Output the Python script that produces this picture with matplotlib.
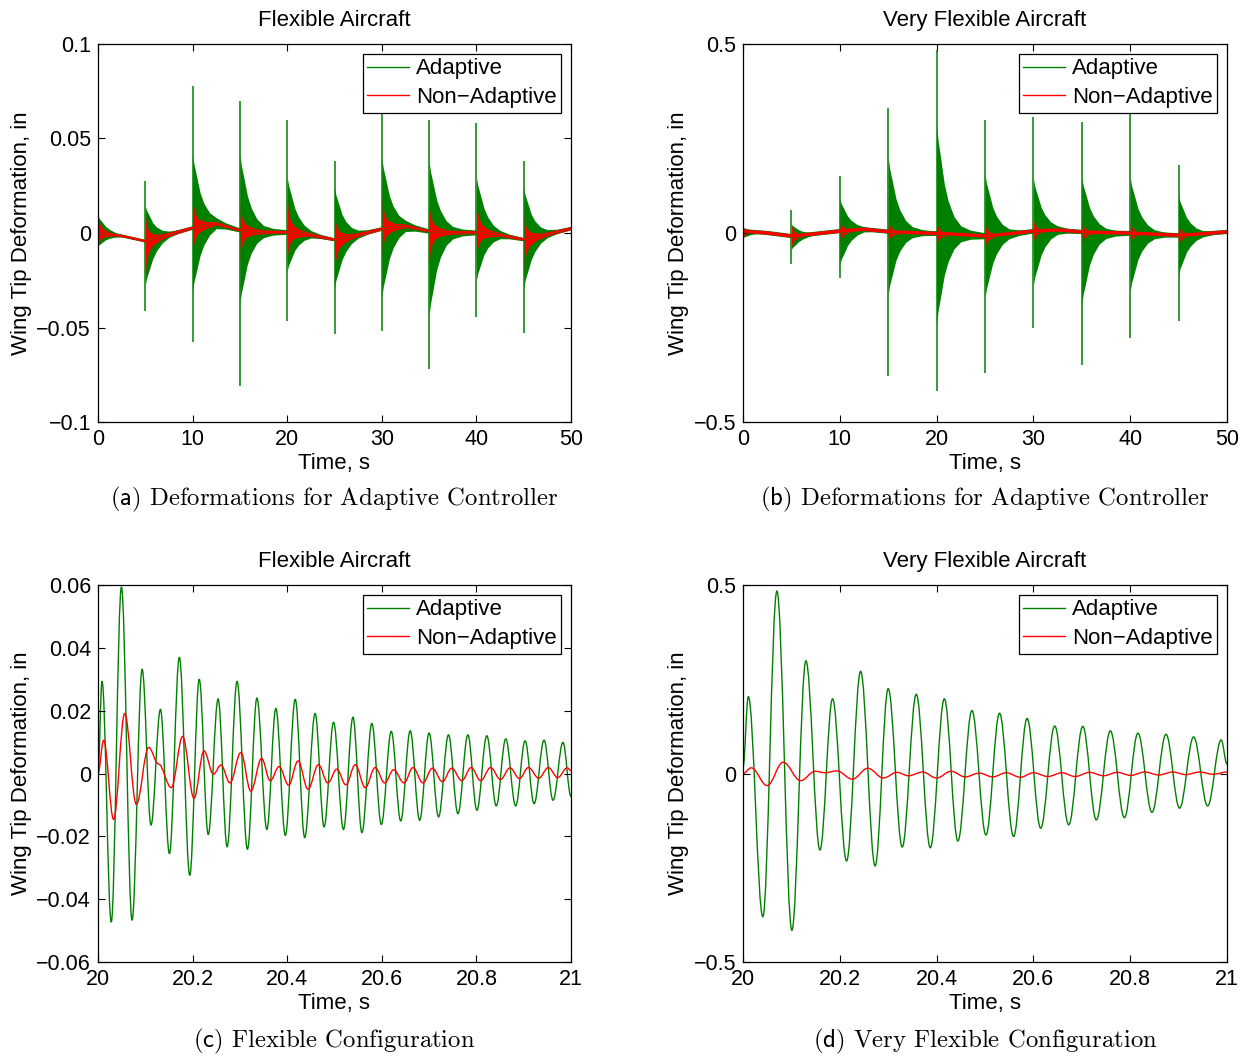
import numpy as np
import matplotlib.pyplot as plt
from matplotlib.path import Path
from matplotlib.patches import PathPatch
from matplotlib.lines import Line2D

plt.rcParams['font.family'] = ['Liberation Sans', 'DejaVu Sans']
plt.rcParams['mathtext.fontset'] = 'cm'

GREEN = (0.0, 0.5, 0.0)
RED = (1.0, 0.0, 0.0)

# -----------------------------
# Gust events, 0..50 s (top row)
# -----------------------------
events = [0, 5, 10, 15, 20, 25, 30, 35, 40, 45]
drift_t = [0, 2.5, 5, 7.5, 10, 12.5, 15, 17.5, 20, 22.5, 25,
           27.5, 30, 32.5, 35, 37.5, 40, 42.5, 45, 47.5, 50]

# flexible aircraft
flex_drift = [0.0, -0.0015, -0.0043, -0.0005, 0.0028, 0.005, 0.0015, 0.0007, 0.0005, -0.001, -0.0035,
              -0.0007, 0.0023, 0.0037, 0.001, 0.0005, 0.0004, -0.001, -0.0034, -0.0004, 0.0025]
flex_spike_hi = [0.0, 0.0273, 0.0777, 0.0698, 0.0598, 0.0383, 0.066, 0.0598, 0.058, 0.038]
flex_spike_lo = [0.0, -0.0411, -0.0578, -0.081, -0.0466, -0.0534, -0.052, -0.072, -0.0444, -0.053]
flex_ad_hi = [0.009, 0.0144, 0.042, 0.042, 0.0296, 0.024, 0.040, 0.038, 0.0296, 0.024]
flex_ad_lo = [-0.007, -0.0273, -0.031, -0.0376, -0.020, -0.029, -0.034, -0.044, -0.025, -0.029]
flex_na_hi = [0.0105, 0.0108, 0.0217, 0.017, 0.0196, 0.0117, 0.0217, 0.0164, 0.0196, 0.0122]
flex_na_lo = [-0.008, -0.0238, -0.0125, -0.0164, -0.0148, -0.0229, -0.0127, -0.018, -0.0143, -0.022]

# very flexible aircraft
vflex_drift = [0.005, 0.0, -0.008, -0.002, 0.005, 0.01, 0.0035, 0.001, -0.001, -0.004, -0.008,
               -0.002, 0.005, 0.008, 0.003, 0.001, 0.0, -0.003, -0.006, -0.002, 0.003]
vflex_spike_hi = [0.0, 0.060, 0.150, 0.331, 0.484, 0.300, 0.308, 0.293, 0.36, 0.181]
vflex_spike_lo = [0.0, -0.081, -0.120, -0.379, -0.417, -0.371, -0.252, -0.349, -0.278, -0.232]
vflex_ad_hi = [0.015, 0.023, 0.09, 0.20, 0.289, 0.156, 0.143, 0.147, 0.147, 0.098]
vflex_ad_lo = [-0.012, -0.043, -0.083, -0.163, -0.243, -0.172, -0.137, -0.19, -0.154, -0.11]
vflex_na_hi = [0.018, 0.024, 0.038, 0.034, 0.032, 0.029, 0.036, 0.032, 0.032, 0.025]
vflex_na_lo = [-0.016, -0.04, -0.03, -0.03, -0.035, -0.041, -0.023, -0.032, -0.028, -0.035]

# envelope decay after each gust (fraction of initial amplitude)
ad_decay_t = [0, 0.15, 0.4, 0.8, 1.2, 1.8, 2.5, 3.5, 4.99]
ad_decay = [1.0, 0.85, 0.7, 0.45, 0.3, 0.16, 0.08, 0.045, 0.03]
na_decay_t = [0, 0.1, 0.3, 0.6, 1.0, 1.5, 2.5, 4.99]
na_decay = [1.0, 0.6, 0.37, 0.22, 0.15, 0.1, 0.06, 0.04]

# -----------------------------
# Zoom on 20..21 s (bottom row): turning points
# -----------------------------
c_ad_t = [20.000, 20.0085, 20.028, 20.0495, 20.072, 20.0933, 20.112, 20.132, 20.151, 20.172,
          20.194, 20.214, 20.233, 20.254, 20.273, 20.294, 20.316, 20.336, 20.357, 20.376,
          20.396, 20.417, 20.437, 20.459, 20.478, 20.498, 20.519, 20.539, 20.558, 20.579,
          20.599, 20.620, 20.640, 20.660, 20.680, 20.700, 20.720, 20.741, 20.761, 20.782,
          20.801, 20.822, 20.842, 20.862, 20.883, 20.903, 20.922, 20.943, 20.962, 20.983, 21.000]
c_ad_y = [0.0, 0.0294, -0.0473, 0.0594, -0.0467, 0.0332, -0.0164, 0.0204, -0.0255, 0.0370,
          -0.0324, 0.0300, -0.0194, 0.0237, -0.0233, 0.0293, -0.0241, 0.0240, -0.0178, 0.0207,
          -0.0197, 0.0236, -0.0204, 0.0191, -0.0170, 0.0163, -0.0178, 0.0179, -0.0188, 0.0159,
          -0.0162, 0.0134, -0.0151, 0.0136, -0.0149, 0.0129, -0.0138, 0.0123, -0.0128, 0.0123,
          -0.0117, 0.0120, -0.0103, 0.0110, -0.0103, 0.0104, -0.0096, 0.0106, -0.0085, 0.0099, -0.0073]
c_na_t = [20.000, 20.012, 20.033, 20.0565, 20.081, 20.107, 20.128, 20.155, 20.179, 20.203,
          20.224, 20.244, 20.260, 20.279, 20.302, 20.323, 20.346, 20.364, 20.383, 20.403,
          20.423, 20.444, 20.466, 20.486, 20.505, 20.524, 20.544, 20.565, 20.586, 20.606,
          20.625, 20.647, 20.666, 20.687, 20.707, 20.728, 20.748, 20.769, 20.789, 20.809,
          20.830, 20.851, 20.871, 20.891, 20.910, 20.932, 20.952, 20.972, 20.992, 21.000]
c_na_y = [0.0, 0.0106, -0.0146, 0.0191, -0.0098, 0.0083, 0.0030, -0.0045, 0.0118, -0.0079,
          0.0072, -0.0002, 0.0027, -0.0030, 0.0067, -0.0056, 0.0048, -0.0023, 0.0022, -0.0037,
          0.0040, -0.0050, 0.0028, -0.0030, 0.0014, -0.0036, 0.0028, -0.0045, 0.0019, -0.0030,
          0.0012, -0.0030, 0.0019, -0.0030, 0.0017, -0.0026, 0.0017, -0.0023, 0.0019, -0.0023,
          0.0019, -0.0019, 0.0018, -0.0016, 0.0019, -0.0015, 0.0019, -0.0013, 0.0018, 0.0009]

d_ad_t = [20.000, 20.011, 20.041, 20.070, 20.101, 20.130, 20.159, 20.185, 20.214, 20.243,
          20.273, 20.300, 20.329, 20.358, 20.387, 20.416, 20.444, 20.473, 20.502, 20.530,
          20.559, 20.587, 20.615, 20.644, 20.673, 20.702, 20.730, 20.759, 20.788, 20.816,
          20.845, 20.874, 20.902, 20.931, 20.960, 20.988, 21.000]
d_ad_y = [0.016, 0.204, -0.380, 0.484, -0.416, 0.299, -0.203, 0.198, -0.232, 0.271,
          -0.245, 0.225, -0.195, 0.210, -0.197, 0.198, -0.179, 0.167, -0.163, 0.160,
          -0.167, 0.146, -0.145, 0.126, -0.136, 0.125, -0.123, 0.113, -0.117, 0.107,
          -0.103, 0.104, -0.092, 0.097, -0.086, 0.089, 0.025]
d_na_t = [20.000, 20.017, 20.050, 20.083, 20.119, 20.149, 20.170, 20.194, 20.226, 20.258,
          20.290, 20.318, 20.342, 20.371, 20.400, 20.430, 20.459, 20.488, 20.516, 20.544,
          20.573, 20.600, 20.630, 20.659, 20.686, 20.716, 20.745, 20.773, 20.801, 20.830,
          20.859, 20.888, 20.915, 20.943, 20.972, 21.000]
d_na_y = [0.0, 0.015, -0.032, 0.030, -0.019, 0.006, 0.002, 0.007, -0.015, 0.014,
          -0.012, 0.003, -0.006, 0.004, -0.012, 0.006, -0.009, 0.001, -0.009, 0.002,
          -0.010, 0.002, -0.008, 0.002, -0.008, 0.003, -0.006, 0.003, -0.005, 0.004,
          -0.004, 0.004, -0.003, 0.004, -0.002, 0.004]

# -----------------------------
# Tick labels
# -----------------------------
full_xticks = [0, 10, 20, 30, 40, 50]
full_xlabels = ['0', '10', '20', '30', '40', '50']
zoom_xticks = [20, 20.2, 20.4, 20.6, 20.8, 21]
zoom_xlabels = ['20', '20.2', '20.4', '20.6', '20.8', '21']
flex_yticks = [-0.1, -0.05, 0, 0.05, 0.1]
flex_ylabels = ['\u22120.1', '\u22120.05', '0', '0.05', '0.1']
vflex_yticks = [-0.5, 0, 0.5]
vflex_ylabels = ['\u22120.5', '0', '0.5']
c_yticks = [-0.06, -0.04, -0.02, 0, 0.02, 0.04, 0.06]
c_ylabels = ['\u22120.06', '\u22120.04', '\u22120.02', '0', '0.02', '0.04', '0.06']

series_names = ['Adaptive', 'Non\u2212Adaptive']
captions = [r'$\mathsf{(a)}$ Deformations for Adaptive Controller',
            r'$\mathsf{(b)}$ Deformations for Adaptive Controller',
            r'$\mathsf{(c)}$ Flexible Configuration',
            r'$\mathsf{(d)}$ Very Flexible Configuration']

FS = 16


def burst_band(ax, drift, hi0, lo0, dt, frac, color):
    """Dense oscillation after each gust, drawn as its envelope."""
    dt = np.asarray(dt)
    frac = np.asarray(frac)
    ts, his, los = [], [], []
    for ev, h, l in zip(events, hi0, lo0):
        t = ev + dt
        b = np.interp(t, drift_t, drift)
        b0 = np.interp(ev, drift_t, drift)
        ts.append(t)
        his.append(b + (h - b0) * frac)
        los.append(b + (l - b0) * frac)
    ax.fill_between(np.concatenate(ts), np.concatenate(los), np.concatenate(his),
                    color=color, lw=0)


def smooth_trace(ax, t, y, color, lw=1.0):
    """Smooth curve through turning points (flat tangent at each one)."""
    k = 0.364
    verts = [(t[0], y[0])]
    codes = [Path.MOVETO]
    for i in range(len(t) - 1):
        h = t[i + 1] - t[i]
        verts += [(t[i] + k * h, y[i]), (t[i + 1] - k * h, y[i + 1]), (t[i + 1], y[i + 1])]
        codes += [Path.CURVE4] * 3
    ax.add_patch(PathPatch(Path(verts, codes), fill=False, edgecolor=color, lw=lw))


def style(ax, title, xlim, xticks, xlabels, ylim, yticks, ylabels):
    ax.set_xlim(xlim)
    ax.set_ylim(ylim)
    ax.set_xticks(xticks, xlabels)
    ax.set_yticks(yticks, ylabels)
    ax.tick_params(direction='in', top=True, right=True, length=5, width=0.8,
                   labelsize=15.5, pad=5)
    for s in ax.spines.values():
        s.set_linewidth(0.9)
    ax.set_title(title, fontsize=FS, pad=13)
    ax.set_xlabel('Time, s', fontsize=FS, labelpad=2)
    ax.set_ylabel('Wing Tip Deformation, in', fontsize=FS, labelpad=3)
    handles = [Line2D([], [], color=GREEN, lw=1.0), Line2D([], [], color=RED, lw=1.0)]
    leg = ax.legend(handles, series_names, loc='upper right', fancybox=False,
                    edgecolor='k', framealpha=1, fontsize=FS, handlelength=1.9,
                    handletextpad=0.3, borderpad=0.2, labelspacing=0.35,
                    borderaxespad=0.45)
    leg.get_frame().set_linewidth(0.9)


fig = plt.figure(figsize=(12.51, 10.57), dpi=100)
W, H = 1251, 1057
ax_a = fig.add_axes([98 / W, 1 - 422 / H, 473 / W, 378 / H])
ax_b = fig.add_axes([743 / W, 1 - 422 / H, 484 / W, 378 / H])
ax_c = fig.add_axes([98 / W, 1 - 962 / H, 473 / W, 377 / H])
ax_d = fig.add_axes([743 / W, 1 - 962 / H, 484 / W, 377 / H])

# top row: full 50 s histories
for ax, drift, shi, slo, ahi, alo, nhi, nlo, lws in [
        (ax_a, flex_drift, flex_spike_hi, flex_spike_lo, flex_ad_hi, flex_ad_lo,
         flex_na_hi, flex_na_lo, (2.0, 1.6)),
        (ax_b, vflex_drift, vflex_spike_hi, vflex_spike_lo, vflex_ad_hi, vflex_ad_lo,
         vflex_na_hi, vflex_na_lo, (3.0, 2.4))]:
    burst_band(ax, drift, ahi, alo, ad_decay_t, ad_decay, GREEN)
    ax.plot(drift_t, drift, color=GREEN, lw=lws[0])
    ax.vlines(events[1:], slo[1:], shi[1:], color=GREEN, lw=1.1)
    burst_band(ax, drift, nhi, nlo, na_decay_t, na_decay, RED)
    ax.plot(drift_t, drift, color=RED, lw=lws[1])

style(ax_a, 'Flexible Aircraft', (0, 50), full_xticks, full_xlabels,
      (-0.1, 0.1), flex_yticks, flex_ylabels)
style(ax_b, 'Very Flexible Aircraft', (0, 50), full_xticks, full_xlabels,
      (-0.5, 0.5), vflex_yticks, vflex_ylabels)

# bottom row: one second after the gust at 20 s
smooth_trace(ax_c, c_ad_t, c_ad_y, GREEN)
smooth_trace(ax_c, c_na_t, c_na_y, RED)
smooth_trace(ax_d, d_ad_t, d_ad_y, GREEN)
smooth_trace(ax_d, d_na_t, d_na_y, RED)

style(ax_c, 'Flexible Aircraft', (20, 21), zoom_xticks, zoom_xlabels,
      (-0.06, 0.06), c_yticks, c_ylabels)
style(ax_d, 'Very Flexible Aircraft', (20, 21), zoom_xticks, zoom_xlabels,
      (-0.5, 0.5), vflex_yticks, vflex_ylabels)

# sub-figure captions
for ax, cap, y in [(ax_a, captions[0], 499), (ax_b, captions[1], 499),
                   (ax_c, captions[2], 1041), (ax_d, captions[3], 1041)]:
    pos = ax.get_position()
    fig.text(pos.x0 + pos.width / 2, 1 - y / H, cap, family='cmr10', fontsize=17.8,
             ha='center', va='center')

fig.savefig('out.png', dpi=100)
